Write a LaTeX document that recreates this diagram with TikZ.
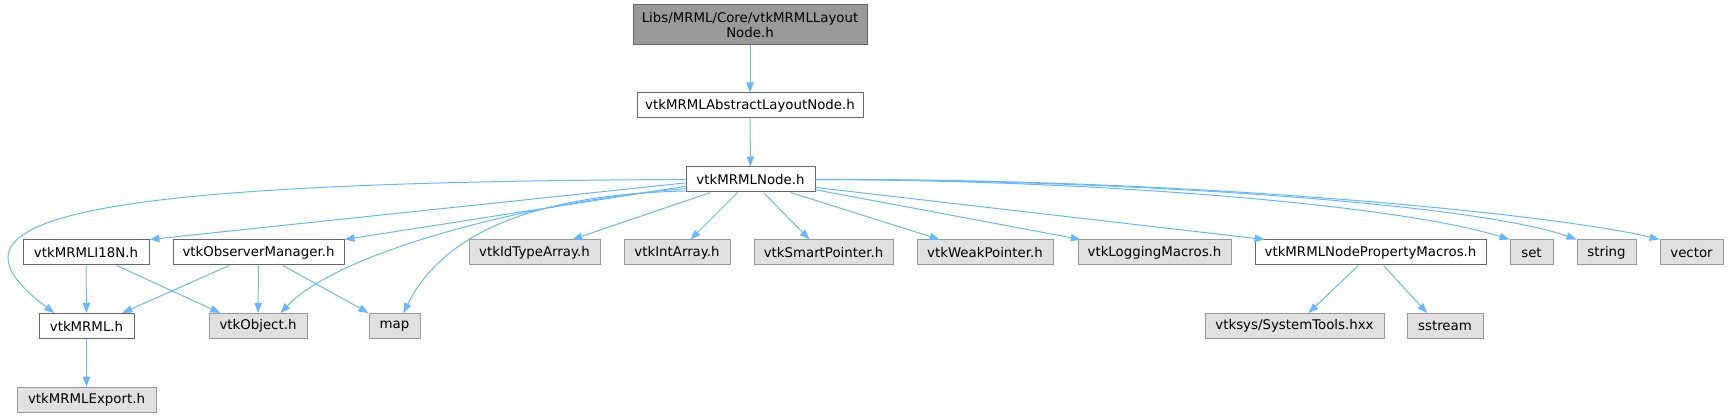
\documentclass[tikz,border=0pt]{standalone}
\usepackage{fontspec}
\setmainfont{DejaVu Sans}
\usetikzlibrary{arrows.meta}
\definecolor{edgeblue}{HTML}{63B8FF}
\definecolor{boxline}{HTML}{666666}
\definecolor{sysline}{HTML}{999999}
\definecolor{sysfill}{HTML}{E0E0E0}
\definecolor{rootfill}{HTML}{999999}
\tikzset{
  hfile/.style={draw=boxline,fill=white,line width=0.75pt,minimum height=18.75pt,inner sep=1pt},
  sysfile/.style={hfile,draw=sysline,fill=sysfill},
  rootfile/.style={hfile,fill=rootfill,minimum height=30pt,align=center},
  incl/.style={draw=edgeblue,line width=0.75pt,-{Triangle[length=7.5pt,width=5.5pt]}}
}
\begin{document}
\begin{tikzpicture}[x=0.75pt,y=-0.75pt,font=\fontsize{10}{11.25}\selectfont]
\useasboundingbox (0,0) rectangle (1729,417);
\node[rootfile,minimum width=175.5pt] (layout) at (750,25) {Libs/MRML/Core/vtkMRMLLayout\\Node.h};
\node[hfile,minimum width=169.5pt] (abstract) at (750,105.5) {vtkMRMLAbstractLayoutNode.h};
\node[hfile,minimum width=96.75pt] (mnode) at (750.5,179.5) {vtkMRMLNode.h};
\node[hfile,minimum width=94.5pt] (i18n) at (86,252.5) {vtkMRMLI18N.h};
\node[hfile,minimum width=128.25pt] (observer) at (258.5,252.5) {vtkObserverManager.h};
\node[sysfile,minimum width=98.25pt] (idtype) at (534.5,252.5) {vtkIdTypeArray.h};
\node[sysfile,minimum width=79.5pt] (intarray) at (677,252.5) {vtkIntArray.h};
\node[sysfile,minimum width=104.25pt] (smartptr) at (823.5,252.5) {vtkSmartPointer.h};
\node[sysfile,minimum width=102pt] (weakptr) at (985,252.5) {vtkWeakPointer.h};
\node[sysfile,minimum width=114.75pt] (logging) at (1154.5,252.5) {vtkLoggingMacros.h};
\node[hfile,minimum width=173.25pt] (propmacros) at (1370.5,252.5) {vtkMRMLNodePropertyMacros.h};
\node[sysfile,minimum width=32.25pt] (set) at (1531.5,252.5) {set};
\node[sysfile,minimum width=44.25pt] (string) at (1606.5,252.5) {string};
\node[sysfile,minimum width=47.25pt] (vector) at (1691.5,252.5) {vector};
\node[hfile,minimum width=71.25pt] (mrml) at (86.5,326) {vtkMRML.h};
\node[sysfile,minimum width=73.5pt] (object) at (258,326) {vtkObject.h};
\node[sysfile,minimum width=38.25pt] (map) at (394.5,326) {map};
\node[sysfile,minimum width=134.25pt] (systools) at (1294.5,326) {vtksys/SystemTools.hxx};
\node[sysfile,minimum width=57pt] (sstream) at (1445,326) {sstream};
\node[sysfile,minimum width=104.25pt] (export) at (86.5,399.5) {vtkMRMLExport.h};

\draw[incl] (layout) -- (abstract);
\draw[incl] (abstract) -- (mnode);
% vtkMRMLNode.h, left side
\draw[incl] (mnode.180) .. controls (60,182) and (-70,220) .. (mrml.158);
\draw[incl] (mnode.183) -- (i18n.north east);
\draw[incl] (mnode.186) -- (observer.north east);
\draw[incl] (mnode.188) .. controls (540,200) and (340,250) .. (object.30);
\draw[incl] (mnode.190) .. controls (520,195) and (440,240) .. (map.56);
% vtkMRMLNode.h, bottom and right side
\draw[incl] (mnode.-162) -- (idtype.19);
\draw[incl] (mnode.-135) -- (intarray.44);
\draw[incl] (mnode.-45) -- (smartptr.137);
\draw[incl] (mnode.-18) -- (weakptr.164);
\draw[incl] (mnode.-9) -- (logging.170);
\draw[incl] (mnode.-7) -- (propmacros.173);
\draw[incl] (mnode.east) .. controls (1100,180) and (1400,205) .. (set.north west);
\draw[incl] (mnode.east) .. controls (1150,180) and (1480,205) .. (string.north west);
\draw[incl] (mnode.east) .. controls (1200,178) and (1560,215) .. (vector.north west);
% second level
\draw[incl] (i18n) -- (mrml);
\draw[incl] (i18n.-23) -- (object.161);
\draw[incl] (observer.-156) -- (mrml.20);
\draw[incl] (observer) -- (object);
\draw[incl] (observer.-28) -- (map.north west);
\draw[incl] (mrml) -- (export);
\draw[incl] (propmacros.-133) -- (systools.43);
\draw[incl] (propmacros.-45) -- (sstream.144);
\end{tikzpicture}
\end{document}
